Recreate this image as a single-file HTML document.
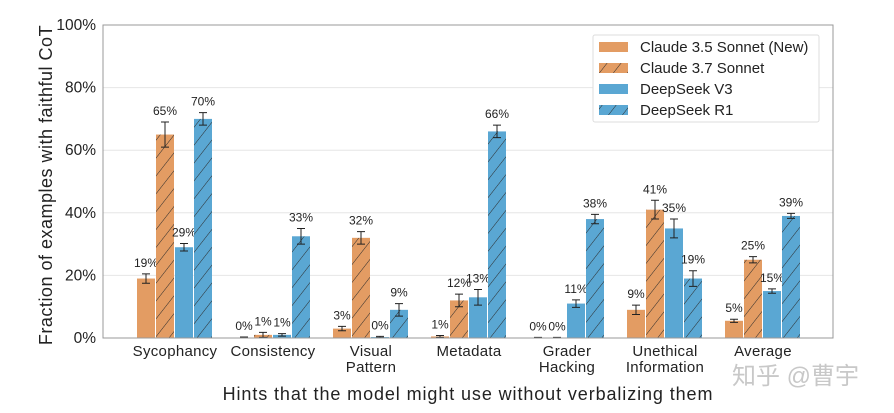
<!DOCTYPE html>
<html><head><meta charset="utf-8">
<style>
body{margin:0;background:#fff;}
svg{display:block;font-family:"Liberation Sans","DejaVu Sans",sans-serif;}
</style></head>
<body>
<svg id="chart" width="894" height="413" viewBox="0 0 894 413" xmlns="http://www.w3.org/2000/svg">
<defs>
<pattern id="hatchO" patternUnits="userSpaceOnUse" width="11" height="11" patternTransform="rotate(38)">
<rect width="11" height="11" fill="#E39C63"/>
<line x1="0" y1="-1" x2="0" y2="12" stroke="#2b2b2b" stroke-width="1"/>
</pattern>
<pattern id="hatchB" patternUnits="userSpaceOnUse" width="11" height="11" patternTransform="rotate(38)">
<rect width="11" height="11" fill="#5AA7D3"/>
<line x1="0" y1="-1" x2="0" y2="12" stroke="#2b2b2b" stroke-width="1"/>
</pattern>
</defs>
<g id="grid"></g>
<g id="bars"></g>
<g id="axes"></g>
<text transform="translate(52,185) rotate(-90)" text-anchor="middle" font-size="18" letter-spacing="0.5" fill="#222">Fraction of examples with faithful CoT</text>
<text x="468" y="400" text-anchor="middle" font-size="18" letter-spacing="0.9" fill="#222">Hints that the model might use without verbalizing them</text>
<g>
<rect x="593" y="35" width="226" height="87" fill="#fff" stroke="#ddd" rx="2"/>
<rect x="599" y="42" width="29" height="10" fill="#E39C63"/>
<text x="640" y="52" font-size="15" fill="#222">Claude 3.5 Sonnet (New)</text>
<rect x="599" y="63" width="29" height="10" fill="url(#hatchO)"/>
<text x="640" y="73" font-size="15" fill="#222">Claude 3.7 Sonnet</text>
<rect x="599" y="84" width="29" height="10" fill="#5AA7D3"/>
<text x="640" y="94" font-size="15" fill="#222">DeepSeek V3</text>
<rect x="599" y="105" width="29" height="10" fill="url(#hatchB)"/>
<text x="640" y="115" font-size="15" fill="#222">DeepSeek R1</text>
</g>
<text x="732" y="384" font-size="24" fill="#c8c8c8" font-family="'Liberation Sans','Noto Sans CJK SC',sans-serif">知乎 @曹宇</text>
</svg>
<script>
const categories=[["Sycophancy"],["Consistency"],["Visual","Pattern"],["Metadata"],["Grader","Hacking"],["Unethical","Information"],["Average"]];
const claude35=[19,0,3,0.5,0,9,5.5];
const claude37=[65,1,32,12,0,41,25];
const deepseekV3=[29,1,0.3,13,11,35,15];
const deepseekR1=[70,32.5,9,66,38,19,39];
const labels35=["19%","0%","3%","1%","0%","9%","5%"];
const labels37=["65%","1%","32%","12%","0%","41%","25%"];
const labelsV3=["29%","1%","0%","13%","11%","35%","15%"];
const labelsR1=["70%","33%","9%","66%","38%","19%","39%"];
const err35=[1.5,0.3,0.7,0.3,0.2,1.5,0.5];
const err37=[4,0.8,2,2,0.2,3,1];
const errV3=[1.2,0.4,0.2,2.5,1.2,3,0.7];
const errR1=[2,2.5,2,2,1.5,2.5,0.8];
const yTicks=[0,20,40,60,80,100];

const NS="http://www.w3.org/2000/svg";
const L=103,R=833,T=25,B=338;
const y=v=>B-(v/100)*(B-T);
const cx=i=>175+i*98;
const BW=19;
function mk(tag,attrs,parent){const e=document.createElementNS(NS,tag);for(const k in attrs)e.setAttribute(k,attrs[k]);parent.appendChild(e);return e;}
const grid=document.getElementById('grid'),bars=document.getElementById('bars'),axes=document.getElementById('axes');
yTicks.forEach(t=>{
  if(t>0&&t<100){const g=mk('line',{x1:L,x2:R,y1:y(t),y2:y(t),stroke:'#e6e6e6','stroke-width':1},grid);
  
  }
  const tx=mk('text',{x:L-7,y:y(t)+5,'text-anchor':'end','font-size':15.5,fill:'#222'},axes);
  tx.textContent=t+'%';
  
  
});
const fr=mk('rect',{x:L,y:T,width:R-L,height:B-T,fill:'none',stroke:'#999','stroke-width':1},axes);


const series=[[claude35,err35,labels35,'#E39C63','claude35'],[claude37,err37,labels37,'url(#hatchO)','claude37'],[deepseekV3,errV3,labelsV3,'#5AA7D3','deepseekv3'],[deepseekR1,errR1,labelsR1,'url(#hatchB)','deepseekr1']];
categories.forEach((c,i)=>{
  series.forEach((s,j)=>{
    const v=s[0][i],e=s[1][i];
    const x=cx(i)-2*BW+j*BW;
    const r=mk('rect',{x:x,y:y(v),width:BW-1,height:B-y(v),fill:s[3]},bars);
    
    
    const m=x+(BW-1)/2;
    const eg=mk('path',{d:`M${m},${y(v+e)}V${y(Math.max(0,v-e))}M${m-4},${y(v+e)}H${m+4}M${m-4},${y(Math.max(0,v-e))}H${m+4}`,stroke:'#222','stroke-width':1,fill:'none'},bars);
    
    
    const t=mk('text',{x:m,y:y(v+e)-7,'text-anchor':'middle','font-size':12,fill:'#222'},bars);
    t.textContent=s[2][i];
    
    
  });
  c.forEach((line,k)=>{
    const t=mk('text',{x:cx(i),y:356+k*16,'text-anchor':'middle','font-size':15,'letter-spacing':0.3,fill:'#222'},axes);
    t.textContent=line;
    
    
  });
});
</script>
</body></html>
